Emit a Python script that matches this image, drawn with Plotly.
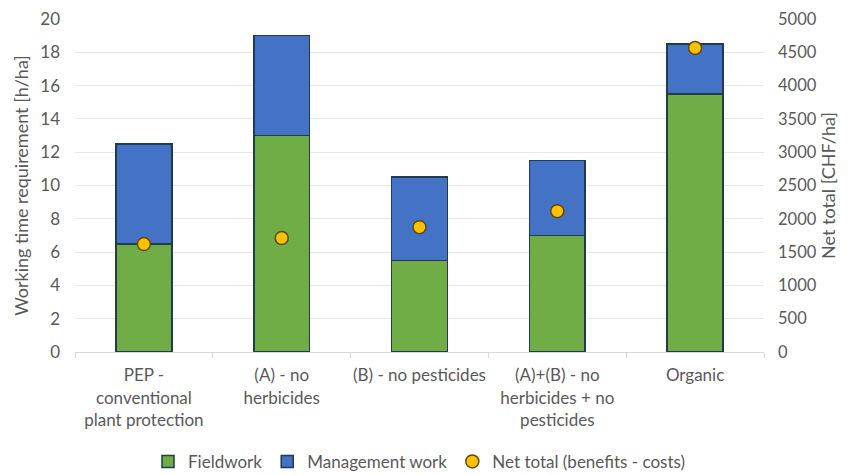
import plotly.graph_objects as go

categories = ["PEP -<br>conventional<br>plant protection", "(A) - no<br>herbicides",
              "(B) - no pesticides", "(A)+(B) - no<br>herbicides + no<br>pesticides", "Organic"]
fieldwork = [6.5, 13, 5.5, 7, 15.5]
management = [6, 6, 5, 4.5, 3]
net_total = [1620, 1710, 1875, 2115, 4565]

font_fam = "Lato, Open Sans, sans-serif"
txt = "#595959"
fs = 17

fig = go.Figure()
fig.add_trace(go.Bar(x=categories, y=fieldwork, name="Fieldwork",
                     marker=dict(color="#70AD47", line=dict(color="#1F3B4D", width=1.5))))
fig.add_trace(go.Bar(x=categories, y=management, name="Management work",
                     marker=dict(color="#4472C4", line=dict(color="#1F3B4D", width=1.5))))
fig.add_trace(go.Scatter(x=categories, y=net_total, name="Net total (benefits - costs)", yaxis="y2",
                         mode="markers",
                         marker=dict(color="#FFC000", size=13, line=dict(color="#5A4A10", width=1.5))))

fig.update_layout(
    width=840, height=467,
    margin=dict(l=67, r=84, t=11, b=123, autoexpand=False),
    barmode="stack", bargap=0.595,
    paper_bgcolor="white", plot_bgcolor="white",
    font=dict(family=font_fam, size=fs, color=txt),
    showlegend=True,
    legend=dict(orientation="h", x=0.5, xanchor="center", y=-0.330, yanchor="middle",
                font=dict(size=fs, color=txt), itemwidth=30, traceorder="normal"),
    xaxis=dict(type="category", showgrid=False, showline=True, linecolor="#D9D9D9", linewidth=1,
               ticks="outside", tickson="boundaries", ticklen=5, tickcolor="#D9D9D9",
               tickangle=0, ticklabeloverflow="allow",
               ticklabelstandoff=8, tickfont=dict(size=fs, color=txt), automargin=False),
    yaxis=dict(range=[0, 20], dtick=2, showgrid=True, gridcolor="#E8E8E8", gridwidth=1,
               zeroline=False, showline=False, automargin=False, ticklabelstandoff=14,
               ticklabeloverflow="allow",
               title=dict(text="Working time requirement [h/ha]", font=dict(size=18, color=txt), standoff=6),
               tickfont=dict(size=fs, color=txt)),
    yaxis2=dict(range=[0, 5000], dtick=500, overlaying="y", side="right", showgrid=False,
                zeroline=False, showline=False, automargin=False, ticklabelstandoff=13,
                ticklabeloverflow="allow",
                title=dict(text="Net total [CHF/ha]", font=dict(size=18, color=txt), standoff=2),
                tickfont=dict(size=16.5, color=txt)),
)

fig.write_html("out.html")
